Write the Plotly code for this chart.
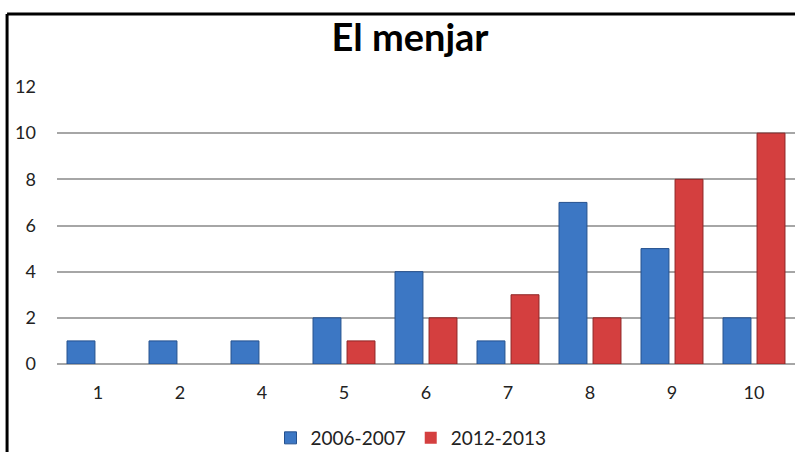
import plotly.graph_objects as go

categories = ["1", "2", "4", "5", "6", "7", "8", "9", "10"]
serie_2006 = [1, 1, 1, 2, 4, 1, 7, 5, 2]
serie_2012 = [0, 0, 0, 1, 2, 3, 2, 8, 10]


def outline(vals, color):
    # no outline for empty bars, so they stay invisible like in Excel
    return dict(color=color, width=[0 if v == 0 else 1 for v in vals])


fig = go.Figure()
fig.add_trace(go.Bar(x=categories, y=serie_2006, name="2006-2007",
                     marker=dict(color="#3C77C4", line=outline(serie_2006, "#24508E"))))
fig.add_trace(go.Bar(x=categories, y=serie_2012, name="2012-2013",
                     marker=dict(color="#D43F3F", line=outline(serie_2012, "#8E2424"))))

fig.update_layout(
    width=795, height=452,
    margin=dict(l=57, r=0, t=87, b=88),
    paper_bgcolor="white", plot_bgcolor="white",
    font=dict(family="Lato, Open Sans, sans-serif", size=18, color="#222"),
    title=dict(text="<b>El menjar</b>", x=410 / 795, xanchor="center",
               y=1 - 38 / 452, yanchor="middle",
               font=dict(size=38, color="black")),
    barmode="group", bargap=0.17, bargroupgap=0.18,
    showlegend=True,
    legend=dict(orientation="h", xref="container", yref="container",
                x=411 / 795, xanchor="center",
                y=1 - 438 / 452, yanchor="middle", font=dict(size=19),
                itemwidth=30),
    xaxis=dict(type="category", showgrid=False, showline=False, ticks="",
               ticklabelstandoff=16),
    yaxis=dict(range=[0, 12], dtick=2, gridcolor="#A6A6A6", gridwidth=1.5,
               zeroline=True, zerolinecolor="#A6A6A6", zerolinewidth=1.5,
               showline=False, ticks="", ticklabelstandoff=20),
    shapes=[
        dict(type="line", xref="paper", yref="paper",
             x0=-50 / 739, x1=1.2, y0=(364 - 14) / 277, y1=(364 - 14) / 277,
             line=dict(color="black", width=3)),
        dict(type="line", xref="paper", yref="paper",
             x0=-50 / 739, x1=-50 / 739, y0=(364 - 14) / 277, y1=-1,
             line=dict(color="black", width=3)),
    ],
)

fig.write_html("out.html", config={"displayModeBar": False},
               post_script="document.body.style.margin='0';")
